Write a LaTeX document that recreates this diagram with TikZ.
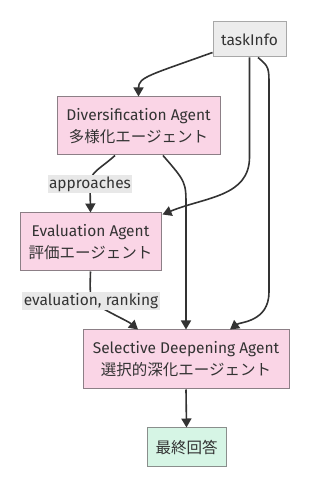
\documentclass[tikz,border=0pt]{standalone}
\usepackage{fontspec}
\setmainfont{Fira Sans}
\newfontfamily\jpfont{Noto Sans CJK JP}
\usepackage{tikz}
\usetikzlibrary{arrows.meta,calc}
\definecolor{FlowPink}{HTML}{FAD5E6}
\definecolor{FlowPinkLine}{HTML}{8C7F86}
\definecolor{FlowGrey}{HTML}{ECECEC}
\definecolor{FlowGreyLine}{HTML}{A8A8A8}
\definecolor{FlowGreen}{HTML}{D6F5E5}
\definecolor{FlowGreenLine}{HTML}{8A8E8C}
\definecolor{FlowEdge}{HTML}{333333}
\definecolor{FlowText}{HTML}{333333}
\definecolor{FlowLabel}{HTML}{E8E8E8}

\begin{document}
\begin{tikzpicture}[x=1pt,y=1pt,
    box/.style={draw,line width=1pt,text=FlowText,align=center,inner sep=0pt,
      font=\fontsize{15.5}{22}\selectfont},
    agent/.style={box,fill=FlowPink,draw=FlowPinkLine},
    arr/.style={draw=FlowEdge,line width=1.6pt,-{Triangle[length=9pt,width=10pt]}},
    lbl/.style={fill=FlowLabel,text=FlowText,inner sep=1.5pt,
      font=\fontsize{15.5}{17}\selectfont}]
  \useasboundingbox (0,0) rectangle (329,487);
  % boxes
  \node[box,fill=FlowGrey,draw=FlowGreyLine,minimum width=73pt,minimum height=35pt]
    (task) at (249.5,447.5) {taskInfo};
  \node[agent,minimum width=163pt,minimum height=58pt] (div) at (138.5,361)
    {Diversification Agent\\{\jpfont 多様化エージェント}};
  \node[agent,minimum width=141pt,minimum height=58pt] (eval) at (90.5,245)
    {Evaluation Agent\\{\jpfont 評価エージェント}};
  \node[agent,minimum width=206pt,minimum height=59pt] (sel) at (186,127.5)
    {Selective Deepening Agent\\{\jpfont 選択的深化エージェント}};
  \node[box,fill=FlowGreen,draw=FlowGreenLine,minimum width=79pt,minimum height=39pt]
    (final) at (186.5,39.5) {\jpfont 最終回答};
  % edges
  \draw[arr] ($(task.south west)+(0,5)$) .. controls (150,412) and (138.5,410) .. (div.north);
  \draw[arr] ($(task.south)$) -- (249.5,330) .. controls (249.5,290) and (205,290) .. ($(eval.north east)+(1,-2)$);
  \draw[arr] ($(task.south)+(8.5,0)$) .. controls (269,420) .. (269,400) -- (269,195)
    .. controls (269,165) and (240,165) .. ($(sel.north)+(44,0)$);
  \draw[arr] ($(div.south)+(-23.5,0)$) .. controls (100,318) and (90,315) .. (90,303)
    node[lbl] {approaches} -- (eval.north);
  \draw[arr] ($(div.south)+(24.5,0)$) .. controls (186,305) .. (186,280) -- (sel.north);
  \draw[arr] (eval.south) .. controls (90,200) .. (91,186)
    node[lbl] {evaluation, ranking} .. controls (105,176) and (128,166) .. ($(sel.north)+(-48,0)$);
  \draw[arr] (sel.south) -- (final.north);
\end{tikzpicture}
\end{document}
